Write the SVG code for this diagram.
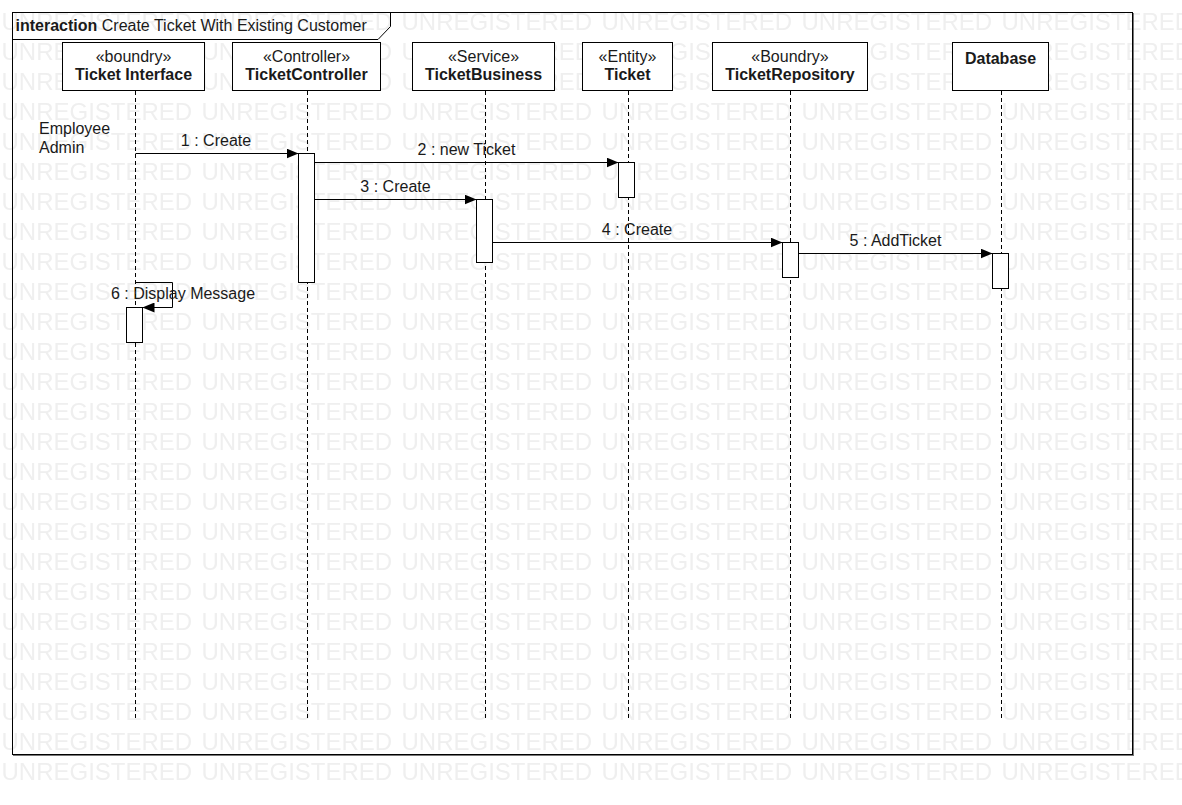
<svg xmlns="http://www.w3.org/2000/svg" width="1182" height="805" viewBox="0 0 1182 805">
<style>
text{font-family:"Liberation Sans",Arial,sans-serif;font-size:16px;fill:#1a1a1a}
.b{font-weight:bold}
.c{text-anchor:middle}
.wm{font-size:24px;fill:#efefef}
.box{fill:#fff;stroke:#000;stroke-width:1}
.life{stroke:#000;stroke-width:1;stroke-dasharray:4,3;fill:none}
.act{fill:#fff;stroke:#000;stroke-width:1}
.msg{stroke:#000;stroke-width:1;fill:none;marker-end:url(#arr)}
</style>
<defs>
<marker id="arr" markerUnits="userSpaceOnUse" markerWidth="12" markerHeight="10" refX="12" refY="5" orient="auto"><path d="M0,0 L12,5 L0,10 z" fill="#000"/></marker>
<pattern id="wmp" patternUnits="userSpaceOnUse" x="0" y="0" width="200" height="30"><text class="wm" x="1.5" y="30">UNREGISTERED</text></pattern>
</defs>
<rect width="1182" height="805" fill="#fff"/>
<rect x="0" y="0" width="1182" height="790" fill="url(#wmp)"/>
<g id="frame">
<line x1="13" y1="755.5" x2="1134" y2="755.5" stroke="#777" stroke-width="1"/>
<line x1="1133.5" y1="13" x2="1133.5" y2="756" stroke="#777" stroke-width="1"/>
<rect x="12.5" y="12.5" width="1120" height="742" fill="none" stroke="#000"/>
<path d="M12.5,39.5 L378,39.5 L390.5,26.5 L390.5,12.5" fill="none" stroke="#000"/>
<text x="15.5" y="31"><tspan class="b">interaction</tspan> Create Ticket With Existing Customer</text>
</g>
<g id="lifelines">
<line class="life" x1="135.5" y1="91" x2="135.5" y2="718"/>
<line class="life" x1="307.5" y1="91" x2="307.5" y2="718"/>
<line class="life" x1="485.5" y1="91" x2="485.5" y2="718"/>
<line class="life" x1="628.5" y1="91" x2="628.5" y2="718"/>
<line class="life" x1="790.5" y1="91" x2="790.5" y2="718"/>
<line class="life" x1="1001.5" y1="91" x2="1001.5" y2="718"/>
</g>
<g id="ticketInterface">
<rect class="box" x="62.5" y="42.5" width="142" height="48"/>
<text class="c" x="133.5" y="61.5">«boundry»</text>
<text class="c b" x="133.5" y="80">Ticket Interface</text>
</g>
<g id="ticketController">
<rect class="box" x="232.5" y="42.5" width="148" height="48"/>
<text class="c" x="306.5" y="61.5">«Controller»</text>
<text class="c b" x="306.5" y="80">TicketController</text>
</g>
<g id="ticketBusiness">
<rect class="box" x="412.5" y="42.5" width="142" height="48"/>
<text class="c" x="483.5" y="61.5">«Service»</text>
<text class="c b" x="483.5" y="80">TicketBusiness</text>
</g>
<g id="ticket">
<rect class="box" x="582.5" y="42.5" width="90" height="48"/>
<text class="c" x="627.5" y="61.5">«Entity»</text>
<text class="c b" x="627.5" y="80">Ticket</text>
</g>
<g id="ticketRepository">
<rect class="box" x="712.5" y="42.5" width="155" height="48"/>
<text class="c" x="790" y="61.5">«Boundry»</text>
<text class="c b" x="790" y="80">TicketRepository</text>
</g>
<g id="database">
<rect class="box" x="952.5" y="42.5" width="96" height="48"/>
<text class="c b" x="1000.5" y="63.5">Database</text>
</g>
<g id="actors">
<text x="39" y="134">Employee</text>
<text x="39" y="152.5">Admin</text>
</g>
<g id="activations">
<rect class="act" x="298.5" y="153.5" width="16" height="129"/>
<rect class="act" x="618.5" y="162.5" width="16" height="35"/>
<rect class="act" x="476.5" y="199.5" width="16" height="63"/>
<rect class="act" x="782.5" y="242.5" width="16" height="35"/>
<rect class="act" x="992.5" y="253.5" width="16" height="35"/>
<rect class="act" x="126.5" y="307.5" width="16" height="35"/>
</g>
<g id="connectors">
<line class="msg" x1="135.5" y1="153.5" x2="298.5" y2="153.5"/>
<text class="c" x="216" y="145.5">1 : Create</text>
<line class="msg" x1="314.5" y1="162.5" x2="618.5" y2="162.5"/>
<text class="c" x="466.5" y="155">2 : new Ticket</text>
<line class="msg" x1="314.5" y1="199.5" x2="476.5" y2="199.5"/>
<text class="c" x="395.5" y="192">3 : Create</text>
<line class="msg" x1="492.5" y1="242.5" x2="782.5" y2="242.5"/>
<text class="c" x="637" y="234.5">4 : Create</text>
<line class="msg" x1="798.5" y1="253.5" x2="992.5" y2="253.5"/>
<text class="c" x="895.5" y="245.5">5 : AddTicket</text>
<path class="msg" d="M135.5,282.5 L172.5,282.5 L172.5,307.5 L142.5,307.5"/>
<text x="111" y="298.5">6 : Display Message</text>
</g>
</svg>
